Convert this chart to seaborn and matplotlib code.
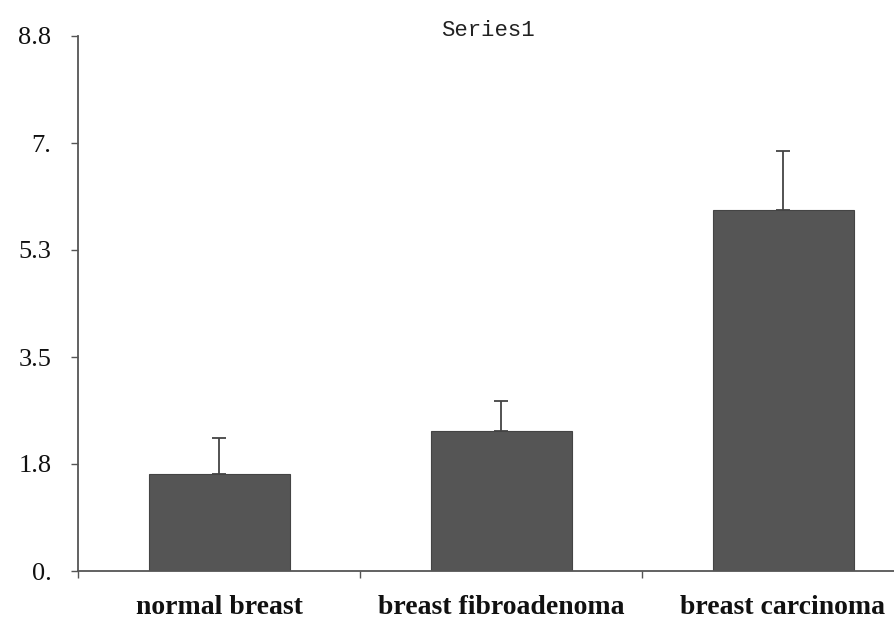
import numpy as np
import pandas as pd
import matplotlib
matplotlib.use('Agg')
import matplotlib.pyplot as plt
import seaborn as sns

categories = ['normal breast', 'breast fibroadenoma', 'breast carcinoma']
means = [1.59, 2.29, 5.90]
errors = [0.59, 0.49, 0.97]
ytick_values = [0, 1.75, 3.5, 5.25, 7, 8.75]
ytick_labels = ['0.', '1.8', '3.5', '5.3', '7.', '8.8']
title = 'Series1'

sns.set_style('white')
plt.rcParams['font.family'] = ['Liberation Serif', 'DejaVu Serif']

df = pd.DataFrame({'group': categories, 'value': means})

fig = plt.figure(figsize=(8.94, 6.27), dpi=100)
# axes runs past the right edge, like the cropped original
ax = fig.add_axes([78 / 894, 56 / 627, 846 / 894, 535 / 627])

sns.barplot(data=df, x='group', y='value', color='#555555', width=0.5,
            saturation=1, errorbar=None, edgecolor='#444444', linewidth=0.8, ax=ax)

xpos = np.arange(len(categories))
ax.errorbar(xpos, means, yerr=[np.zeros(len(errors)), errors], fmt='none',
            ecolor='#444444', elinewidth=1.3, capsize=5, capthick=1.3)

ax.set_ylim(0, 8.75)
ax.set_xlim(-0.5, len(categories) - 0.5)
ax.set_yticks(ytick_values)
ax.set_yticklabels(ytick_labels)
ax.tick_params(axis='y', length=5, width=1, color='#555555', pad=14,
               labelsize=19, left=True, direction='out', labelcolor='#111111')

# category labels without ticks, ticks at the boundaries instead
ax.tick_params(axis='x', which='major', length=0, pad=17, labelsize=20,
               labelcolor='#111111')
ax.set_xticks(np.arange(-0.5, len(categories)), minor=True)
ax.tick_params(axis='x', which='minor', length=5, width=1, color='#555555',
               bottom=True, direction='out')
for lab in ax.get_xticklabels():
    lab.set_fontweight('bold')

ax.set_xlabel('')
ax.set_ylabel('')
sns.despine(ax=ax, top=True, right=True)
for side in ['left', 'bottom']:
    ax.spines[side].set_color('#555555')
    ax.spines[side].set_linewidth(1.3)

fig.text(488 / 894, 1 - 30 / 627, title, ha='center', va='center',
         fontsize=16, color='#222222', family=['Liberation Mono', 'DejaVu Sans Mono'])

fig.savefig('out.png', dpi=100)
